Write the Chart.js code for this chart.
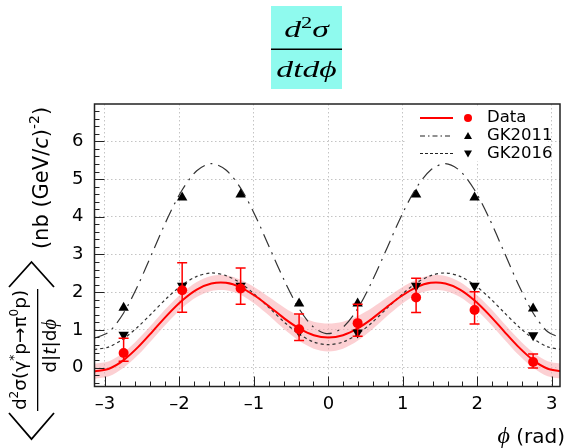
<!DOCTYPE html>
<html>
<head>
<meta charset="utf-8">
<script src="https://cdn.jsdelivr.net/npm/chart.js@4.4.1/dist/chart.umd.min.js"></script>
<style>
  html, body { margin: 0; padding: 0; background: #fff; }
  #wrap { width: 566px; height: 448px; }
</style>
</head>
<body>
<div id="wrap"><canvas id="phiChart" width="566" height="448"></canvas></div>
<script>
// phi grid of the smooth curves (rad)
const phiCurve = [-3.1416, -2.9452, -2.7489, -2.5525, -2.3562, -2.1598, -1.9635, -1.7671, -1.5708,
  -1.3744, -1.1781, -0.9817, -0.7854, -0.5890, -0.3927, -0.1963, 0, 0.1963, 0.3927, 0.5890, 0.7854,
  0.9817, 1.1781, 1.3744, 1.5708, 1.7671, 1.9635, 2.1598, 2.3562, 2.5525, 2.7489, 2.9452, 3.1416];

// fit to data with its error band
const fitCurve = [-0.10, -0.03, 0.20, 0.55, 0.97, 1.40, 1.78, 2.07, 2.23, 2.25, 2.13, 1.90, 1.61, 1.30, 1.04, 0.86,
  0.80, 0.86, 1.04, 1.30, 1.61, 1.90, 2.13, 2.25, 2.23, 2.07, 1.78, 1.40, 0.97, 0.55, 0.20, -0.03, -0.10];
const bandHigh = [0.10, 0.17, 0.40, 0.76, 1.18, 1.61, 1.98, 2.27, 2.43, 2.45, 2.33, 2.12, 1.86, 1.59, 1.37, 1.22,
  1.17, 1.22, 1.37, 1.59, 1.86, 2.12, 2.33, 2.45, 2.43, 2.27, 1.98, 1.61, 1.18, 0.76, 0.40, 0.17, 0.10];
const bandLow = [-0.30, -0.23, 0.00, 0.34, 0.76, 1.19, 1.58, 1.87, 2.03, 2.05, 1.93, 1.68, 1.36, 1.01, 0.71, 0.50,
  0.43, 0.50, 0.71, 1.01, 1.36, 1.68, 1.93, 2.05, 2.03, 1.87, 1.58, 1.19, 0.76, 0.34, 0.00, -0.23, -0.30];

// model curves
const gk2011Curve = [0.78, 0.95, 1.45, 2.20, 3.08, 3.96, 4.71, 5.22, 5.41, 5.24, 4.76, 4.03, 3.16, 2.30, 1.56, 1.07,
  0.90, 1.07, 1.56, 2.30, 3.16, 4.03, 4.76, 5.24, 5.41, 5.22, 4.71, 3.96, 3.08, 2.20, 1.45, 0.95, 0.78];
const gk2016Curve = [0.48, 0.55, 0.77, 1.09, 1.47, 1.86, 2.19, 2.42, 2.51, 2.44, 2.24, 1.93, 1.57, 1.20, 0.89, 0.68,
  0.61, 0.68, 0.89, 1.20, 1.57, 1.93, 2.24, 2.44, 2.51, 2.42, 2.19, 1.86, 1.47, 1.09, 0.77, 0.55, 0.48];

// phi bins: measured points and model values
const phiBins = [-2.749, -1.963, -1.178, -0.393, 0.393, 1.178, 1.963, 2.749];
const dataVal = [0.39, 2.05, 2.10, 1.02, 1.18, 1.86, 1.53, 0.15];
const dataHigh = [0.78, 2.78, 2.64, 1.42, 1.68, 2.37, 2.01, 0.36];
const dataLow = [0.17, 1.47, 1.68, 0.72, 0.83, 1.46, 1.16, -0.01];
const gk2011Val = [1.59, 4.51, 4.59, 1.70, 1.70, 4.59, 4.51, 1.57];
const gk2016Val = [0.87, 2.17, 2.17, 0.96, 0.93, 2.17, 2.17, 0.86];

const legendLabels = ["Data", "GK2011", "GK2016"];

const pts = (xs, ys) => xs.map((x, i) => ({ x: x, y: ys[i] }));
const fmtTick = v => (v < 0 ? "\u2013" + Math.abs(v) : String(v));

const SANS = "'DejaVu Sans', sans-serif";
const SERIF_FAM = "'Liberation Serif', 'DejaVu Serif', serif";
const SERIF_IT = "italic 400 24px " + SERIF_FAM;
const PHI = "\u03d5";
const DASHDOT = [14, 6, 2, 6];
const DOTTED = [3, 3];

// draw a row of text pieces (optionally rotated), centred on cx, cy
function drawRuns(ctx, runs, cx, cy, angle) {
  ctx.save();
  ctx.translate(cx, cy);
  ctx.rotate(angle || 0);
  ctx.textBaseline = "middle";
  ctx.textAlign = "left";
  let total = 0;
  runs.forEach(r => { ctx.font = r.font; r.w = ctx.measureText(r.text).width; total += r.w; });
  let u = -total / 2;
  runs.forEach(r => { ctx.font = r.font; ctx.fillText(r.text, u, r.dy || 0); u += r.w; });
  ctx.restore();
}

const frameAndLabels = {
  id: "frameAndLabels",
  afterDatasetsDraw(chart) {
    const ctx = chart.ctx, a = chart.chartArea;
    const xs = chart.scales.x, ys = chart.scales.y;

    // error bars on the data points
    ctx.save();
    ctx.strokeStyle = "#ff0000";
    ctx.lineWidth = 1.5;
    phiBins.forEach((p, i) => {
      const px = xs.getPixelForValue(p);
      const hi = ys.getPixelForValue(dataHigh[i]);
      const lo = ys.getPixelForValue(dataLow[i]);
      ctx.beginPath();
      ctx.moveTo(px, hi); ctx.lineTo(px, lo);
      ctx.moveTo(px - 5, hi); ctx.lineTo(px + 5, hi);
      ctx.moveTo(px - 5, lo); ctx.lineTo(px + 5, lo);
      ctx.stroke();
    });
    ctx.restore();

    // inward ticks and frame
    ctx.save();
    ctx.strokeStyle = "#222";
    ctx.lineWidth = 1;
    ctx.beginPath();
    for (let i = -16; i <= 16; i++) {
      const v = i / 5;
      if (v < xs.min || v > xs.max) continue;
      const px = Math.round(xs.getPixelForValue(v)) + 0.5;
      const len = i % 5 === 0 ? 10 : 5;
      ctx.moveTo(px, a.bottom); ctx.lineTo(px, a.bottom - len);
    }
    for (let i = -5; i <= 35; i++) {
      const v = i / 5;
      if (v < ys.min || v > ys.max) continue;
      const py = Math.round(ys.getPixelForValue(v)) + 0.5;
      const len = i % 5 === 0 ? 10 : 5;
      ctx.moveTo(a.left, py); ctx.lineTo(a.left + len, py);
    }
    ctx.stroke();
    ctx.lineWidth = 1.5;
    ctx.strokeRect(a.left, a.top, a.right - a.left, a.bottom - a.top);
    ctx.restore();
  },
  afterDraw(chart) {
    const ctx = chart.ctx, a = chart.chartArea;

    // legend
    ctx.save();
    ctx.fillStyle = "#fff";
    ctx.fillRect(a.right - 154, a.top + 2, 142, 55);
    const rowY = [a.top + 14, a.top + 32, a.top + 49.5];
    const x0 = a.right - 140, x1 = a.right - 107, xm = a.right - 92, xt = a.right - 73;
    ctx.lineWidth = 2; ctx.strokeStyle = "#ff0000";
    ctx.beginPath(); ctx.moveTo(x0, rowY[0]); ctx.lineTo(x1, rowY[0]); ctx.stroke();
    ctx.fillStyle = "#ff0000";
    ctx.beginPath(); ctx.arc(xm, rowY[0], 4, 0, Math.PI * 2); ctx.fill();
    ctx.lineWidth = 1.2; ctx.strokeStyle = "#222";
    ctx.setLineDash([5, 3, 1.5, 3]);
    ctx.beginPath(); ctx.moveTo(x0, rowY[1]); ctx.lineTo(x1, rowY[1]); ctx.stroke();
    ctx.setLineDash([3, 2]);
    ctx.beginPath(); ctx.moveTo(x0, rowY[2]); ctx.lineTo(x1, rowY[2]); ctx.stroke();
    ctx.setLineDash([]);
    ctx.fillStyle = "#000";
    ctx.beginPath();
    ctx.moveTo(xm, rowY[1] - 4); ctx.lineTo(xm + 4, rowY[1] + 3); ctx.lineTo(xm - 4, rowY[1] + 3);
    ctx.closePath(); ctx.fill();
    ctx.beginPath();
    ctx.moveTo(xm, rowY[2] + 4); ctx.lineTo(xm + 4, rowY[2] - 3); ctx.lineTo(xm - 4, rowY[2] - 3);
    ctx.closePath(); ctx.fill();
    ctx.font = "16.5px " + SANS;
    ctx.textBaseline = "middle";
    legendLabels.forEach((t, i) => ctx.fillText(t, xt, rowY[i]));
    ctx.restore();

    // title fraction d^2 sigma / dt d phi
    ctx.save();
    ctx.fillStyle = "#8ffaee";
    ctx.fillRect(271, 6, 71, 83);
    ctx.fillStyle = "#000";
    ctx.save();
    ctx.translate(306.5, 0);
    ctx.scale(1.4, 1);
    drawRuns(ctx, [
      { text: "d", font: SERIF_IT },
      { text: "2", font: "16px " + SERIF_FAM, dy: -7 },
      { text: "\u03c3", font: SERIF_IT }
    ], 0, 31, 0);
    drawRuns(ctx, [{ text: "dtd" + PHI, font: SERIF_IT }], 0, 71, 0);
    ctx.restore();
    ctx.fillRect(271, 48.5, 71, 1.5);
    ctx.restore();

    // y axis title
    ctx.save();
    ctx.fillStyle = "#000";
    const big = "18.5px " + SANS, sup = "12px " + SANS, it = "italic 18.5px " + SANS;
    drawRuns(ctx, [
      { text: "d", font: big }, { text: "2", font: sup, dy: -6 },
      { text: "\u03c3(\u03b3", font: big }, { text: "*", font: sup, dy: -6 },
      { text: "p\u2192\u03c0", font: big }, { text: "0", font: sup, dy: -6 },
      { text: "p)", font: big }
    ], 21, 350, -Math.PI / 2);
    drawRuns(ctx, [
      { text: "d|", font: big }, { text: "t", font: it }, { text: "|d", font: big },
      { text: PHI, font: "italic 20px " + SERIF_FAM }
    ], 51, 346, -Math.PI / 2);
    ctx.fillRect(37, 289, 1.3, 122);
    const mid = "21px " + SANS;
    drawRuns(ctx, [
      { text: "(nb (GeV/", font: mid }, { text: "c", font: "italic 21px " + SANS },
      { text: ")", font: mid }, { text: "-2", font: "14px " + SANS, dy: -8 },
      { text: ")", font: mid }
    ], 43, 178, -Math.PI / 2);
    ctx.strokeStyle = "#000";
    ctx.lineWidth = 1.8;
    ctx.beginPath();
    ctx.moveTo(9, 413); ctx.lineTo(31.5, 439); ctx.lineTo(54, 413);
    ctx.moveTo(9, 287); ctx.lineTo(31.5, 262); ctx.lineTo(54, 287);
    ctx.stroke();
    ctx.restore();

    // x axis title
    ctx.save();
    ctx.fillStyle = "#000";
    ctx.textBaseline = "alphabetic";
    ctx.textAlign = "right";
    ctx.font = "20px " + SANS;
    ctx.fillText("(rad)", 565, 443);
    const w = ctx.measureText(" (rad)").width;
    ctx.font = SERIF_IT;
    ctx.fillText(PHI, 565 - w, 443);
    ctx.restore();
  }
};

const axisTicks = {
  color: "#000",
  font: { family: "'DejaVu Sans'", size: 18 },
  stepSize: 1,
  includeBounds: false,
  autoSkip: false,
  maxRotation: 0,
  callback: fmtTick
};
const gridStyle = { color: "#c4c4c4", lineWidth: 1, drawTicks: false };

new Chart(document.getElementById("phiChart").getContext("2d"), {
  type: "scatter",
  data: {
    datasets: [
      { label: "band high", data: pts(phiCurve, bandHigh), showLine: true, fill: "+1",
        backgroundColor: "rgba(250, 170, 175, 0.55)", borderWidth: 0, pointRadius: 0, tension: 0.3, order: 10 },
      { label: "band low", data: pts(phiCurve, bandLow), showLine: true, fill: false,
        borderWidth: 0, pointRadius: 0, tension: 0.3, order: 10 },
      { label: "fit", data: pts(phiCurve, fitCurve), showLine: true, borderColor: "#ff0000",
        borderWidth: 2, pointRadius: 0, tension: 0.3, order: 5 },
      { label: "GK2011 curve", data: pts(phiCurve, gk2011Curve), showLine: true, borderColor: "#333",
        borderWidth: 1.2, borderDash: DASHDOT, pointRadius: 0, tension: 0.3, order: 5 },
      { label: "GK2016 curve", data: pts(phiCurve, gk2016Curve), showLine: true, borderColor: "#333",
        borderWidth: 1.2, borderDash: DOTTED, pointRadius: 0, tension: 0.3, order: 5 },
      { label: "GK2011", data: pts(phiBins, gk2011Val), pointStyle: "triangle", pointRadius: 6,
        backgroundColor: "#000", borderColor: "#000", borderWidth: 0, order: 1 },
      { label: "GK2016", data: pts(phiBins, gk2016Val), pointStyle: "triangle", rotation: 180, pointRadius: 6,
        backgroundColor: "#000", borderColor: "#000", borderWidth: 0, order: 1 },
      { label: "Data", data: pts(phiBins, dataVal), pointStyle: "circle", pointRadius: 5,
        backgroundColor: "#ff0000", borderColor: "#ff0000", borderWidth: 0, order: 0 }
    ]
  },
  options: {
    responsive: false,
    animation: false,
    devicePixelRatio: 1,
    layout: { padding: { top: 104, right: 3, bottom: 0, left: 0 } },
    plugins: { legend: { display: false }, tooltip: { enabled: false } },
    events: [],
    scales: {
      x: {
        type: "linear", min: -3.14, max: 3.11,
        afterFit: s => { s.height = 61.5; },
        grid: gridStyle,
        border: { display: false, dash: [1.5, 2.5] },
        ticks: Object.assign({}, axisTicks, { padding: 7 })
      },
      y: {
        type: "linear", min: -0.5, max: 6.99,
        afterFit: s => { s.width = 94.5; },
        grid: gridStyle,
        border: { display: false, dash: [1.5, 2.5] },
        ticks: Object.assign({}, axisTicks, { padding: 11 })
      }
    }
  },
  plugins: [frameAndLabels]
});
</script>
</body>
</html>
